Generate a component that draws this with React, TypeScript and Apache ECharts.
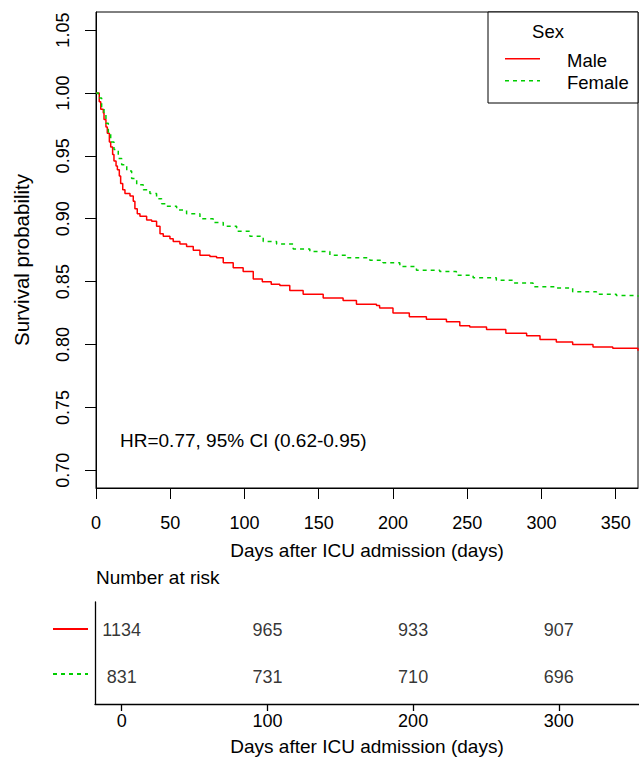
import React, { useEffect, useRef } from "react";
import * as echarts from "echarts";

// Kaplan-Meier curves: time in days, survival probability
const maleTime = [0, 2.2, 3.2, 4.9, 5.4, 6.7, 7.6, 9, 9.9, 11.2, 12.1, 13.5, 14.4, 15.7, 16.6, 18, 19.5, 22.9, 25.1, 26.2, 27.8, 29.6, 34.1, 37.5, 40.8, 43.1, 45.3, 49.8, 52, 56.5, 61, 65.5, 70, 76.7, 81.2, 85.7, 92.4, 99.1, 105.9, 112, 118, 123.8, 130.5, 139.5, 153, 166.4, 175.4, 188.9, 191, 200, 211, 222.5, 236, 245, 251.7, 263, 276, 290, 299, 310, 321, 334.7, 348, 365];
const maleSurv = [1, 0.993, 0.987, 0.984, 0.979, 0.973, 0.968, 0.961, 0.957, 0.951, 0.946, 0.942, 0.939, 0.934, 0.928, 0.923, 0.92, 0.918, 0.914, 0.908, 0.904, 0.902, 0.899, 0.898, 0.894, 0.888, 0.886, 0.884, 0.882, 0.88, 0.878, 0.875, 0.871, 0.87, 0.869, 0.865, 0.861, 0.858, 0.852, 0.85, 0.848, 0.847, 0.843, 0.84, 0.837, 0.835, 0.832, 0.831, 0.829, 0.825, 0.822, 0.82, 0.818, 0.815, 0.814, 0.812, 0.809, 0.807, 0.804, 0.802, 0.8, 0.798, 0.797, 0.795];

const femaleTime = [0, 1.6, 3.8, 5.4, 6.7, 8.3, 9.9, 12.1, 15, 17.3, 20.7, 24, 27.4, 31.8, 36.3, 40.8, 44.2, 47.6, 54.3, 61, 70, 78.9, 85.7, 94.7, 103.6, 112.6, 121.6, 132.8, 144, 157.5, 168.7, 184.4, 193.3, 204.6, 215.8, 231.5, 242.7, 254, 269.6, 280.8, 294.3, 310, 321, 337, 350.4, 365];
const femaleSurv = [1, 0.996, 0.988, 0.983, 0.976, 0.968, 0.961, 0.955, 0.948, 0.943, 0.938, 0.932, 0.927, 0.923, 0.92, 0.916, 0.912, 0.91, 0.907, 0.904, 0.9, 0.897, 0.894, 0.89, 0.886, 0.882, 0.88, 0.876, 0.874, 0.871, 0.869, 0.867, 0.865, 0.862, 0.859, 0.858, 0.855, 0.853, 0.851, 0.849, 0.846, 0.845, 0.842, 0.84, 0.839, 0.838];

const yTicks = [0.7, 0.75, 0.8, 0.85, 0.9, 0.95, 1.0, 1.05];
const riskTimes = [0, 100, 200, 300];
const riskMale = [1134, 965, 933, 907];
const riskFemale = [831, 731, 710, 696];

const FONT = "Liberation Sans, Arial, Helvetica, sans-serif";
const RED = "#FF0000";
const GREEN = "#00CD00";

export default function App() {
  const ref = useRef<HTMLDivElement>(null);
  useEffect(() => {
    if (!ref.current) return;
    const chart = echarts.init(ref.current, undefined, { renderer: "svg" });
    const maleData = maleTime.map((t, i) => [t, maleSurv[i]]);
    const femaleData = femaleTime.map((t, i) => [t, femaleSurv[i]]);
    const riskData = [
      ...riskTimes.map((t, i) => [t, 2, riskMale[i]]),
      ...riskTimes.map((t, i) => [t, 1, riskFemale[i]]),
    ];
    const option: any = {
      animation: false,
      backgroundColor: "#fff",
      textStyle: { fontFamily: FONT },
      grid: [
        { left: 96, top: 12, width: 542, height: 476, show: true, borderColor: "#000", borderWidth: 1, backgroundColor: "transparent", containLabel: false, outerBoundsMode: "none" },
        { left: 95, top: 602, width: 544, height: 102, show: false, containLabel: false, outerBoundsMode: "none" },
      ],
      xAxis: [
        {
          gridIndex: 0, type: "value", min: 0, max: 365, interval: 50,
          axisLine: { show: true, lineStyle: { color: "#000", width: 1 } },
          axisTick: { show: true, inside: false, length: 11, lineStyle: { color: "#000", width: 1 } },
          axisLabel: { show: true, margin: 26, fontSize: 18, color: "#000", fontFamily: FONT, showMaxLabel: false, formatter: (v: number) => (v <= 350 ? String(v) : "") },
          splitLine: { show: false },
        },
        {
          gridIndex: 1, type: "value", min: -18.3, max: 355,
          axisLine: { show: true, onZero: false, lineStyle: { color: "#000", width: 1.3 } },
          axisTick: { show: true, inside: false, length: 7, customValues: riskTimes, lineStyle: { color: "#000", width: 1.3 } },
          axisLabel: { show: true, margin: 7.5, fontSize: 18, color: "#000", fontFamily: FONT, customValues: riskTimes },
          splitLine: { show: false },
        },
      ],
      yAxis: [
        {
          gridIndex: 0, type: "value", min: 0.6859, max: 1.0644,
          axisLine: { show: true, lineStyle: { color: "#000", width: 1 } },
          axisTick: { show: true, inside: false, length: 11, customValues: yTicks, lineStyle: { color: "#000", width: 1 } },
          axisLabel: { show: true, rotate: 90, margin: 24.5, fontSize: 18, color: "#000", fontFamily: FONT, customValues: yTicks, formatter: (v: number) => v.toFixed(2) },
          splitLine: { show: false },
        },
        {
          gridIndex: 1, type: "value", min: 0.4255, max: 2.5957,
          axisLine: { show: true, onZero: false, lineStyle: { color: "#000", width: 1.3 } },
          axisTick: { show: false },
          axisLabel: { show: false },
          splitLine: { show: false },
        },
      ],
      series: [
        {
          name: "Male", type: "line", xAxisIndex: 0, yAxisIndex: 0, step: "end", symbol: "none",
          data: maleData, lineStyle: { color: RED, width: 1.5, type: "solid" }, itemStyle: { color: RED }, clip: true,
        },
        {
          name: "Female", type: "line", xAxisIndex: 0, yAxisIndex: 0, step: "end", symbol: "none",
          data: femaleData, lineStyle: { color: GREEN, width: 1.5, type: [4, 4] }, itemStyle: { color: GREEN }, clip: true,
        },
        {
          name: "Number at risk", type: "scatter", xAxisIndex: 1, yAxisIndex: 1, symbolSize: 1,
          itemStyle: { color: "rgba(0,0,0,0)" },
          data: riskData,
          label: { show: true, position: "inside", fontSize: 18, color: "#000", fontFamily: FONT, formatter: (p: any) => String(p.value[2]) },
        },
      ],
      graphic: [
        // y axis title
        { type: "text", x: 21, y: 260, rotation: Math.PI / 2, style: { text: "Survival probability", font: `20.5px ${FONT}`, fill: "#000", align: "center", verticalAlign: "middle" } },
        // x axis title (top)
        { type: "text", x: 367, y: 550, style: { text: "Days after ICU admission (days)", font: `19px ${FONT}`, fill: "#000", align: "center", verticalAlign: "middle" } },
        // HR annotation
        { type: "text", x: 120, y: 440, style: { text: "HR=0.77, 95% CI (0.62-0.95)", font: `19px ${FONT}`, fill: "#000", align: "left", verticalAlign: "middle" } },
        // legend box
        { type: "rect", shape: { x: 488, y: 12, width: 150, height: 91 }, style: { fill: "#fff", stroke: "#000", lineWidth: 1 }, z: 10 },
        { type: "text", x: 548, y: 31, z: 11, style: { text: "Sex", font: `18.5px ${FONT}`, fill: "#000", align: "center", verticalAlign: "middle" } },
        { type: "line", z: 11, shape: { x1: 505, y1: 58.7, x2: 540, y2: 58.7 }, style: { stroke: RED, lineWidth: 1.5 } },
        { type: "text", x: 567, y: 60, z: 11, style: { text: "Male", font: `18.5px ${FONT}`, fill: "#000", align: "left", verticalAlign: "middle" } },
        { type: "line", z: 11, shape: { x1: 505, y1: 80.7, x2: 540, y2: 80.7 }, style: { stroke: GREEN, lineWidth: 1.5, lineDash: [4, 4] } },
        { type: "text", x: 567, y: 82, z: 11, style: { text: "Female", font: `18.5px ${FONT}`, fill: "#000", align: "left", verticalAlign: "middle" } },
        // risk table
        { type: "text", x: 96, y: 577, style: { text: "Number at risk", font: `19px ${FONT}`, fill: "#000", align: "left", verticalAlign: "middle" } },
        { type: "line", shape: { x1: 53, y1: 629, x2: 88, y2: 629 }, style: { stroke: RED, lineWidth: 2 } },
        { type: "line", shape: { x1: 53, y1: 674, x2: 88, y2: 674 }, style: { stroke: GREEN, lineWidth: 2, lineDash: [4, 4] } },
        { type: "text", x: 367, y: 746.5, style: { text: "Days after ICU admission (days)", font: `19px ${FONT}`, fill: "#000", align: "center", verticalAlign: "middle" } },
      ],
    };
    chart.setOption(option);
    return () => chart.dispose();
  }, []);
  return <div ref={ref} style={{ position: "fixed", left: 0, top: 0, width: 639, height: 758, background: "#fff" }} />;
}
